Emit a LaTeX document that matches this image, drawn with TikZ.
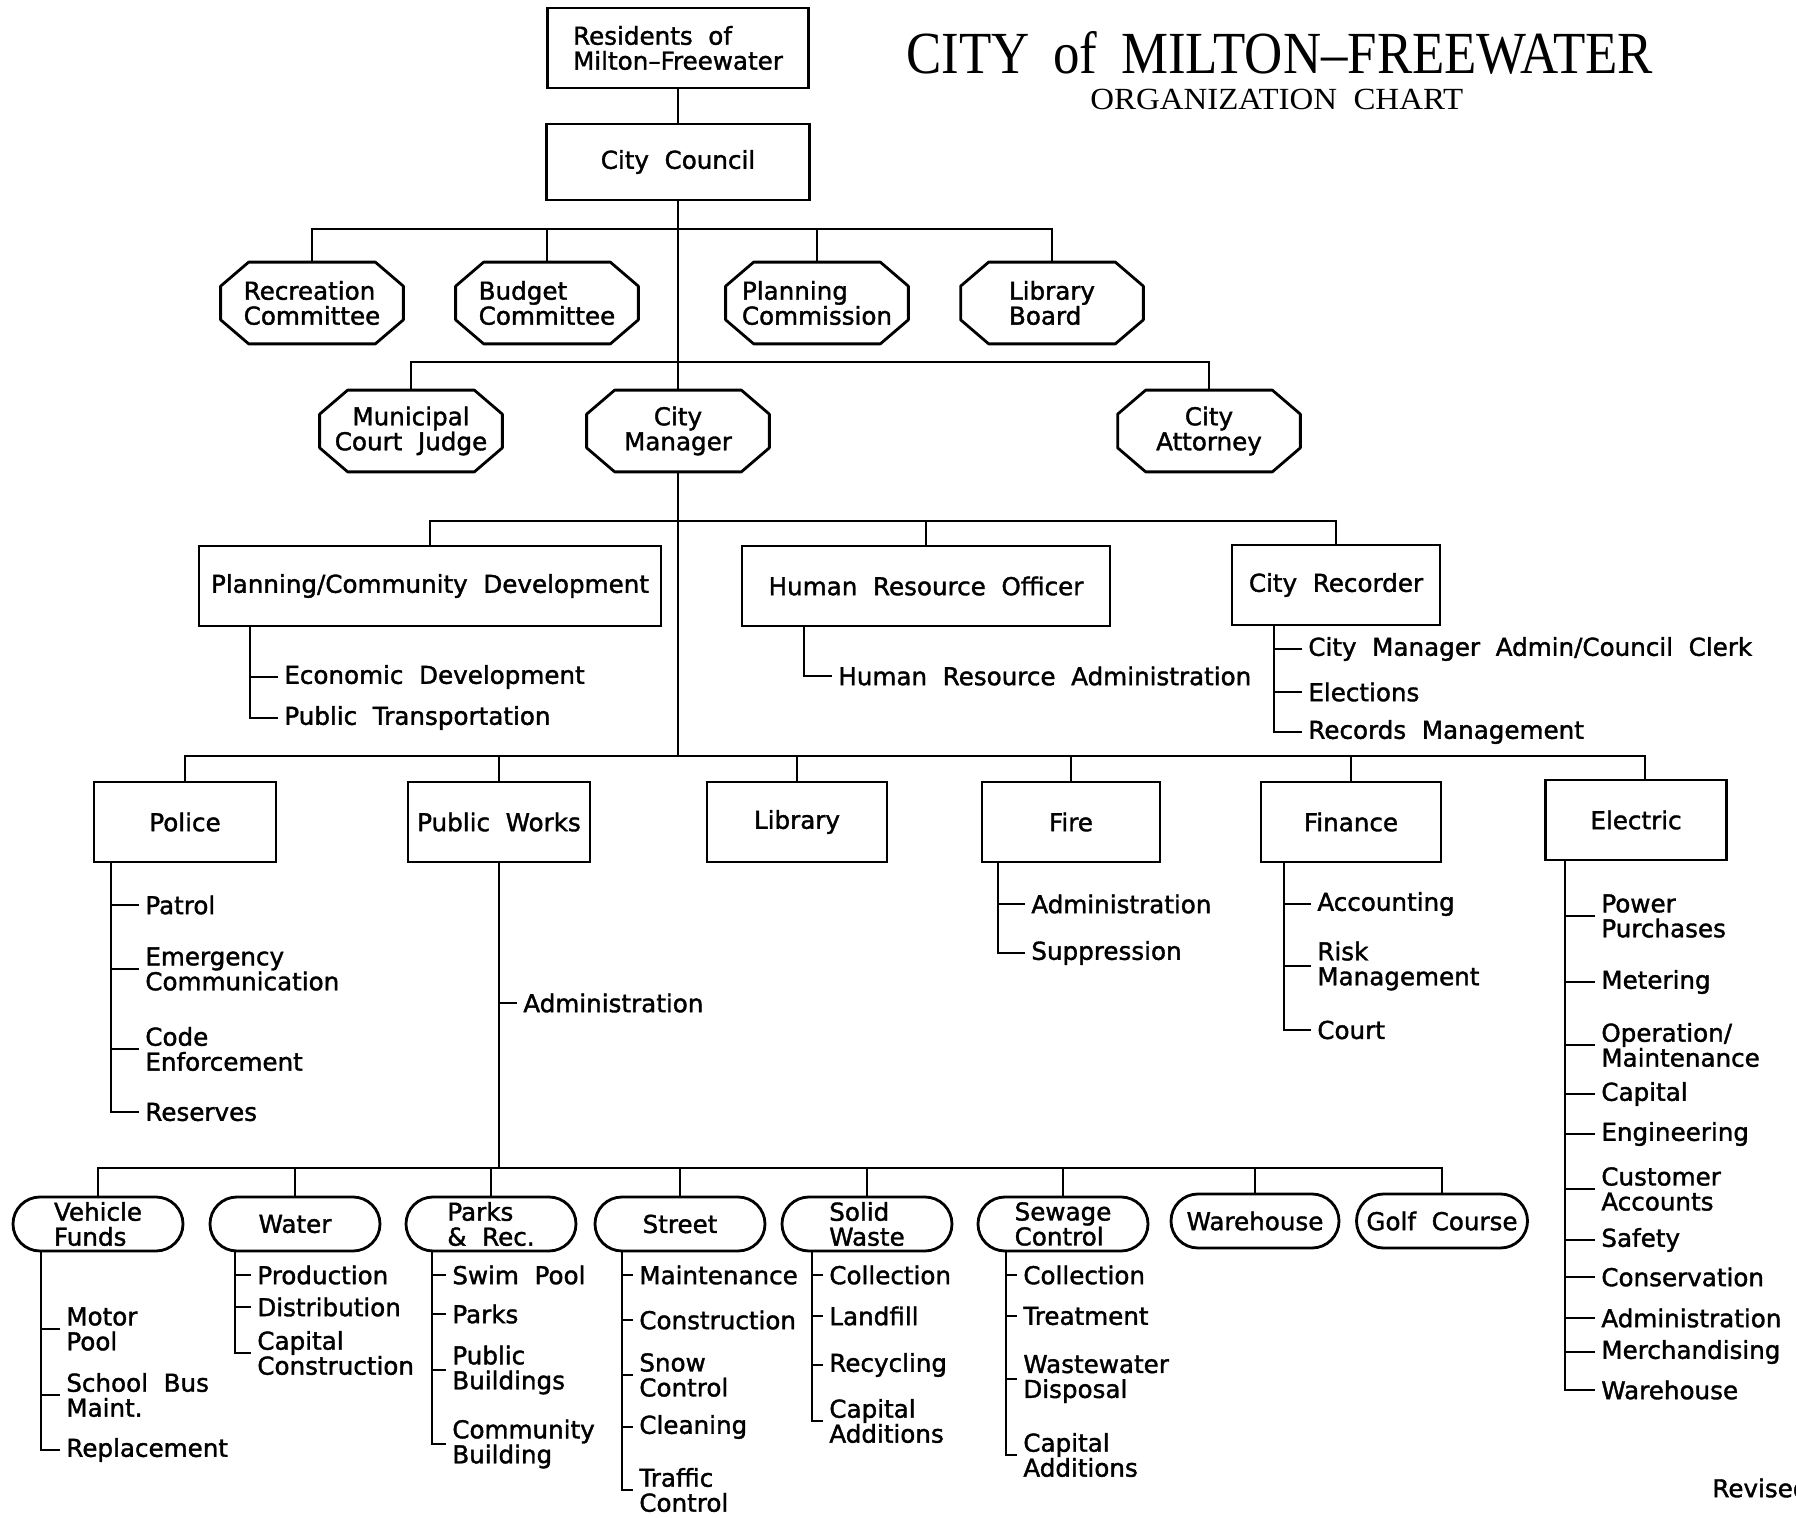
\documentclass[tikz,border=0pt]{standalone}
\usepackage{fontspec}
\setmainfont[WordSpace=2, FakeBold=1.5]{DejaVu Sans}
\newfontfamily\titlefont[FakeStretch=0.885, WordSpace=1.8]{Liberation Serif}
\newfontfamily\subtitlefont[FakeStretch=1.07, WordSpace=2]{Liberation Serif}
\usetikzlibrary{positioning}

\begin{document}
\begin{tikzpicture}[
    x=0.2mm, y=-0.2mm,
    every node/.style={font=\fontsize{14}{14.2}\selectfont, inner sep=0pt},
    box/.style={draw, line width=1.6pt, rectangle, minimum width=36.4mm, minimum height=16mm, align=center},
    octa/.style={rectangle, minimum width=36.4mm, minimum height=16.2mm},
    octa line/.style={line width=1.6pt, line join=round},
    pill/.style={draw, line width=1.6pt, rounded corners=5.4mm, minimum width=34mm, minimum height=10.8mm, align=left},
    item/.style={anchor=west, align=left, inner xsep=1.2mm},
    link/.style={line width=1.1pt}
]
\useasboundingbox (0,0) rectangle (1796,1518);

% Title
\node[font=\titlefont\fontsize{34}{34}\selectfont, anchor=base west] (title) at (906,74) {CITY of MILTON–FREEWATER};
\node[font=\subtitlefont\fontsize{17.5}{17.5}\selectfont, anchor=base west] (subtitle) at (1090,110) {ORGANIZATION CHART};

% Residents and council
\node[box, minimum width=52.2mm, align=left] (res) at (678,48) {Residents of\\Milton–Freewater};
\node[box, minimum width=52.6mm, minimum height=15.2mm] (council) at (678,162) {City Council};
\draw[link] (res.south) -- (council.north);

% Committees
\node[octa, align=left] (rec) at (312,303) {Recreation\\Committee};
\node[octa, align=left] (bud) at (547,303) {Budget\\Committee};
\node[octa, align=left] (plan) at (817,303) {Planning\\Commission};
\node[octa, align=left] (libb) at (1052,303) {Library\\Board};

\coordinate (bus1) at (678,229);
\draw[link] (rec.north) |- (bus1) -| (libb.north);
\foreach \n in {bud, plan}
    \draw[link] (\n.north) -- (\n.north |- bus1);

% Judge, manager, attorney
\node[octa, align=center] (judge) at (411,431) {Municipal\\Court Judge};
\node[octa, align=center] (mgr) at (678,431) {City\\Manager};
\node[octa, align=center] (atty) at (1209,431) {City\\Attorney};

\coordinate (bus2) at (678,362);
\draw[link] (judge.north) |- (bus2) -| (atty.north);
\draw[link] (council.south) -- (mgr.north);

% Octagon outlines
\foreach \n in {rec, bud, plan, libb, judge, mgr, atty}
    \draw[octa line] ([xshift=5.6mm]\n.north west) -- ([xshift=-5.6mm]\n.north east)
        -- ([yshift=-4.8mm]\n.north east) -- ([yshift=4.8mm]\n.south east)
        -- ([xshift=-5.6mm]\n.south east) -- ([xshift=5.6mm]\n.south west)
        -- ([yshift=4.8mm]\n.south west) -- ([yshift=-4.8mm]\n.north west) -- cycle;

% Staff offices
\node[box, minimum width=92.4mm] (pcd) at (430,586) {Planning/Community Development};
\node[box, minimum width=73.6mm] (hro) at (926,586) {Human Resource Officer};
\node[box, minimum width=41.6mm] (recorder) at (1336,585) {City Recorder};

\coordinate (bus3) at (678,521);
\draw[link] (pcd.north) |- (bus3) -| (recorder.north);
\draw[link] (hro.north) -- (hro.north |- bus3);

% Staff office duties
\node[item] (pcd1) at (278,677) {Economic Development};
\node[item] (pcd2) at (278,718) {Public Transportation};
\coordinate (pcdV) at ([xshift=10.4mm]pcd.south west);
\draw[link] (pcd1.west) -- (pcd1.west -| pcdV);
\draw[link] (pcdV) |- (pcd2.west);

\node[item] (hro1) at (832,676) {Human Resource Administration};
\coordinate (hroV) at ([xshift=12.6mm]hro.south west);
\draw[link] (hroV) |- (hro1.west);

\node[item] (rc1) at (1302,649) {City Manager Admin/Council Clerk};
\node[item] (rc2) at (1302,692) {Elections};
\node[item] (rc3) at (1302,732) {Records Management};
\coordinate (rcV) at ([xshift=8.6mm]recorder.south west);
\foreach \i in {1,2}
    \draw[link] (rc\i.west) -- (rc\i.west -| rcV);
\draw[link] (rcV) |- (rc3.west);

% Departments
\node[box] (police) at (185,822) {Police};
\node[box] (pw) at (499,822) {Public Works};
\node[box, minimum width=36mm] (library) at (797,822) {Library};
\node[box, minimum width=35.6mm] (fire) at (1071,822) {Fire};
\node[box, minimum width=36mm] (finance) at (1351,822) {Finance};
\node[box, minimum width=36.2mm] (electric) at (1636,820) {Electric};

\coordinate (bus4) at (678,756);
\coordinate (eleTop) at ([xshift=1.8mm]electric.north);
\draw[link] (mgr.south) -- (bus4);
\draw[link] (police.north) |- (bus4) -| (eleTop);
\foreach \n in {pw, library, fire, finance}
    \draw[link] (\n.north) -- (\n.north |- bus4);

% Police
\node[item] (pol1) at (139,905) {Patrol};
\node[item] (pol2) at (139,969) {Emergency\\Communication};
\node[item] (pol3) at (139,1049) {Code\\Enforcement};
\node[item] (pol4) at (139,1112) {Reserves};
\coordinate (polV) at ([xshift=3.6mm]police.south west);
\foreach \i in {1,2,3}
    \draw[link] (pol\i.west) -- (pol\i.west -| polV);
\draw[link] (polV) |- (pol4.west);

% Public works
\node[item] (pw1) at (517,1003) {Administration};
\coordinate (bus5) at (499,1168);
\draw[link] (pw.south) -- (bus5);
\draw[link] (pw1.west) -- (pw1.west -| pw.south);

% Fire
\node[item] (fire1) at (1025,904) {Administration};
\node[item] (fire2) at (1025,953) {Suppression};
\coordinate (fireV) at ([xshift=3.4mm]fire.south west);
\draw[link] (fire1.west) -- (fire1.west -| fireV);
\draw[link] (fireV) |- (fire2.west);

% Finance
\node[item] (fin1) at (1311,904) {Accounting};
\node[item] (fin2) at (1311,966) {Risk\\Management};
\node[item] (fin3) at (1311,1030) {Court};
\coordinate (finV) at ([xshift=4.8mm]finance.south west);
\foreach \i in {1,2}
    \draw[link] (fin\i.west) -- (fin\i.west -| finV);
\draw[link] (finV) |- (fin3.west);

% Electric
\node[item] (ele1) at (1595,916) {Power\\Purchases};
\node[item] (ele2) at (1595,982) {Metering};
\node[item] (ele3) at (1595,1045) {Operation/\\Maintenance};
\node[item] (ele4) at (1595,1094) {Capital};
\node[item] (ele5) at (1595,1134) {Engineering};
\node[item] (ele6) at (1595,1189) {Customer\\Accounts};
\node[item] (ele7) at (1595,1240) {Safety};
\node[item] (ele8) at (1595,1277) {Conservation};
\node[item] (ele9) at (1595,1318) {Administration};
\node[item] (ele10) at (1595,1352) {Merchandising};
\node[item] (ele11) at (1595,1390) {Warehouse};
\coordinate (eleV) at ([xshift=4.2mm]electric.south west);
\foreach \i in {1,...,10}
    \draw[link] (ele\i.west) -- (ele\i.west -| eleV);
\draw[link] (eleV) |- (ele11.west);

% Public works divisions
\node[pill] (vf) at (98,1224) {Vehicle\\Funds};
\node[pill] (water) at (295,1224) {Water};
\node[pill] (parks) at (491,1224) {Parks\\\& Rec.};
\node[pill] (street) at (680,1224) {Street};
\node[pill] (solid) at (867,1224) {Solid\\Waste};
\node[pill] (sewage) at (1063,1224) {Sewage\\Control};
\node[pill, minimum width=33.6mm] (wh) at (1255,1221) {Warehouse};
\node[pill, minimum width=34.2mm] (golf) at (1442,1221) {Golf Course};

\draw[link] (vf.north) |- (bus5) -| (golf.north);
\foreach \n in {water, parks, street, solid, sewage, wh}
    \draw[link] (\n.north) -- (\n.north |- bus5);

% Vehicle funds
\node[item] (vf1) at (60,1329) {Motor\\Pool};
\node[item] (vf2) at (60,1395) {School Bus\\Maint.};
\node[item] (vf3) at (60,1450) {Replacement};
\coordinate (vfV) at ([xshift=5.8mm]vf.south west);
\foreach \i in {1,2}
    \draw[link] (vf\i.west) -- (vf\i.west -| vfV);
\draw[link] (vfV) |- (vf3.west);

% Water
\node[item] (w1) at (251,1275) {Production};
\node[item] (w2) at (251,1307) {Distribution};
\node[item] (w3) at (251,1353) {Capital\\Construction};
\coordinate (wV) at ([xshift=5.2mm]water.south west);
\foreach \i in {1,2}
    \draw[link] (w\i.west) -- (w\i.west -| wV);
\draw[link] (wV) |- (w3.west);

% Parks
\node[item] (p1) at (446,1275) {Swim Pool};
\node[item] (p2) at (446,1314) {Parks};
\node[item] (p3) at (446,1370) {Public\\Buildings};
\node[item] (p4) at (446,1444) {Community\\Building};
\coordinate (pV) at ([xshift=5.4mm]parks.south west);
\foreach \i in {1,2,3}
    \draw[link] (p\i.west) -- (p\i.west -| pV);
\draw[link] (pV) |- (p4.west);

% Street
\node[item] (s1) at (633,1275) {Maintenance};
\node[item] (s2) at (633,1320) {Construction};
\node[item] (s3) at (633,1375) {Snow\\Control};
\node[item] (s4) at (633,1427) {Cleaning};
\node[item] (s5) at (633,1490) {Traffic\\Control};
\coordinate (sV) at ([xshift=5.6mm]street.south west);
\foreach \i in {1,...,4}
    \draw[link] (s\i.west) -- (s\i.west -| sV);
\draw[link] (sV) |- (s5.west);

% Solid waste
\node[item] (sw1) at (823,1275) {Collection};
\node[item] (sw2) at (823,1316) {Landfill};
\node[item] (sw3) at (823,1365) {Recycling};
\node[item] (sw4) at (823,1421) {Capital\\Additions};
\coordinate (swV) at ([xshift=6.2mm]solid.south west);
\foreach \i in {1,2,3}
    \draw[link] (sw\i.west) -- (sw\i.west -| swV);
\draw[link] (swV) |- (sw4.west);

% Sewage control
\node[item] (sc1) at (1017,1275) {Collection};
\node[item] (sc2) at (1017,1316) {Treatment};
\node[item] (sc3) at (1017,1379) {Wastewater\\Disposal};
\node[item] (sc4) at (1017,1455) {Capital\\Additions};
\coordinate (scV) at ([xshift=5.8mm]sewage.south west);
\foreach \i in {1,2,3}
    \draw[link] (sc\i.west) -- (sc\i.west -| scV);
\draw[link] (scV) |- (sc4.west);

\node[anchor=west] (revised) at (1712,1488) {Revised};

\end{tikzpicture}
\end{document}
